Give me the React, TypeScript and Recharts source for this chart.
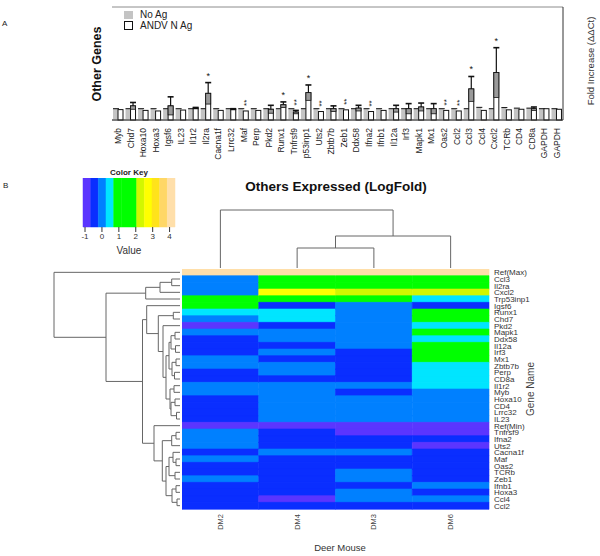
import React from 'react';
import { ComposedChart, BarChart, Bar, Cell, XAxis, YAxis, CartesianGrid, Legend, ScatterChart, Scatter } from 'recharts';

const FONT = '"Liberation Sans", Arial, Helvetica, sans-serif';

// ---- panel A: fold increase per gene ----
const barGenes = ['Myb', 'Chd7', 'Hoxa10', 'Hoxa3', 'Igsf6', 'IL23', 'Il1r2', 'Il2ra', 'Cacna1f', 'Lrrc32', 'Maf', 'Perp', 'Pkd2', 'Runx1', 'Tnfrsf9', 'p53inp1', 'Uts2', 'Zbtb7b', 'Zeb1', 'Ddx58', 'Ifna2', 'Ifnb1', 'Il12a', 'Irf3', 'Mapk1', 'Mx1', 'Oas2', 'Ccl2', 'Ccl3', 'Ccl4', 'Cxcl2', 'TCRb', 'CD4', 'CD8a', 'GAPDH', 'GAPDH'];
const noAg = [1, 1, 1, 1, 1, 1, 1, 1, 1, 1, 1, 1, 1, 1, 1, 1, 1, 1, 1, 1, 1, 1, 1, 1, 1, 1, 1, 1, 1, 1.12, 1, 1.1, 1.05, 1.05, 1, 1];
const andvMean = [0.92, 1.25, 0.85, 0.8, 1.25, 0.88, 1.05, 2.36, 0.85, 0.95, 0.8, 0.85, 0.95, 1.35, 0.7, 2.42, 0.75, 1.0, 0.9, 1.05, 0.75, 0.85, 1.0, 1.0, 1.15, 1.0, 0.85, 0.8, 2.75, 0.85, 4.2, 0.9, 0.95, 1.0, 1.0, 0.95];
const andvErr = [0, 0.3, 0, 0, 0.8, 0, 0.06, 0.95, 0, 0.05, 0, 0, 0.35, 0.25, 0.15, 0.68, 0, 0.25, 0, 0.25, 0, 0, 0.3, 0.45, 0.35, 0.45, 0, 0, 1.1, 0, 2.2, 0, 0, 0.15, 0, 0];
const signif = ['', '', '', '', '', '', '', '*', '', '', '**', '', '', '*', '**', '*', '**', '', '**', '', '**', '', '', '', '', '', '**', '**', '*', '', '*', '', '', '', '', ''];
const foldTicks = [0, 2, 4, 6, 8, 10];

// ---- panel B: heatmap ----
const keyBreaks = [-1.12, -0.667, -0.213, 0.24, 0.693, 1.147, 1.6, 2.053, 2.507, 2.96, 3.413, 3.867, 4.32];
const keyColors = ['#5b35ff', '#0a2eff', '#0080ff', '#00e5ff', '#00ff00', '#00ff00', '#00ff00', '#d2f700', '#ffff00', '#ffe31a', '#ffd766', '#ffdfaa'];
const keyTicks = [-1, 0, 1, 2, 3, 4];

const mice = ['DM2', 'DM4', 'DM3', 'DM6'];
const heatGenes = ['Ref(Max)', 'Ccl3', 'Il2ra', 'Cxcl2', 'Trp53inp1', 'Igsf6', 'Runx1', 'Chd7', 'Pkd2', 'Mapk1', 'Ddx58', 'Il12a', 'Irf3', 'Mx1', 'Zbtb7b', 'Perp', 'CD8a', 'Il1r2', 'Myb', 'Hoxa10', 'CD4', 'Lrrc32', 'IL23', 'Ref(Min)', 'Tnfrsf9', 'Ifna2', 'Uts2', 'Cacna1f', 'Maf', 'Oas2', 'TCRb', 'Zeb1', 'Ifnb1', 'Hoxa3', 'Ccl4', 'Ccl2'];
const dm2 = [4.1, 0, 0, 0, 1.3, 1.3, 0.45, 0, -0.9, 0, -0.45, -0.45, -0.45, 0, 0, -0.45, -0.45, 0, 0, -0.45, -0.45, -0.45, -0.45, -0.9, 0, 0, 0, -0.45, 0, -0.45, -0.45, 0, -0.45, -0.45, -0.45, -0.45];
const dm4 = [4.1, 1.3, 1.3, 2.7, 1.3, -0.45, 0.45, 0.45, -0.45, 0, 0, -0.45, 0, -0.45, 0, 0, -0.45, 0, 0, 0, 0, 0, 0, -0.9, -0.45, -0.45, -0.45, 0, -0.45, -0.45, -0.45, -0.45, -0.45, -0.45, -0.9, -0.45];
const dm3 = [4.1, 1.3, 1.3, 2.25, 1.3, 0, 0, 0, 0, 0, 0, 0, -0.45, -0.45, -0.45, -0.45, -0.45, 0, -0.45, 0, 0, 0, 0, -0.9, -0.9, -0.45, -0.45, 0, -0.45, -0.45, 0, 0, -0.45, 0, 0, -0.45];
const dm6 = [4.1, 1.3, 1.3, 2.25, 0.45, -0.45, 1.3, 1.3, 0.45, 1.3, 0.45, 1.3, 1.3, 1.3, 0.45, 0.45, 0.45, 0.45, 0, 0, 0, 0, 0, -0.9, -0.9, -0.45, -0.9, -0.45, -0.45, -0.45, -0.45, -0.45, 0, -0.45, 0, -0.45];

// dendrogram merges: numbers are leaves (row / column index), 'mK' is the K-th merge
type Ref = number | string;
const rowMerges: [Ref, Ref, number][] = [
  [1, 2, 8.3], ['m0', 3, 20], [4, 'm1', 34.3], [6, 7, 6.7],
  [9, 10, 5], [11, 12, 4.5], ['m4', 'm5', 9], [13, 14, 4], [15, 16, 5.5], ['m7', 'm8', 8], ['m6', 'm9', 11],
  [17, 18, 6], [19, 20, 5], [21, 22, 3.5], ['m12', 'm13', 9], ['m11', 'm14', 10], ['m10', 'm15', 14],
  [8, 'm16', 17], ['m3', 'm17', 21.7], [5, 'm18', 33.3],
  [24, 25, 4], ['m20', 26, 8.3], [28, 29, 4], [27, 'm22', 7], [30, 31, 5], ['m23', 'm24', 11],
  [32, 33, 4], [34, 35, 3], ['m26', 'm27', 8], ['m25', 'm28', 14], ['m21', 'm29', 17.7], [23, 'm30', 26],
  ['m19', 'm31', 37.5], ['m2', 'm32', 74], [0, 'm33', 126],
];
const colMerges: [Ref, Ref, number][] = [[1, 2, 20], ['m0', 3, 32], [0, 'm1', 58]];

function colorFor(v: number) {
  for (let i = 0; i < keyColors.length; i++) {
    if (v >= keyBreaks[i] && v < keyBreaks[i + 1]) return keyColors[i];
  }
  return keyColors[keyColors.length - 1];
}

// turns merges into U-shaped paths of {h, p} points
function dendroPaths(merges: [Ref, Ref, number][]) {
  const nodes: Record<string, { h: number; p: number }> = {};
  const get = (r: Ref) => (typeof r === 'number' ? { h: 0, p: r + 0.5 } : nodes[r]);
  return merges.map(([a, b, h], k) => {
    const A = get(a);
    const B = get(b);
    nodes['m' + k] = { h, p: (A.p + B.p) / 2 };
    return [{ h: A.h, p: A.p }, { h, p: A.p }, { h, p: B.p }, { h: B.h, p: B.p }];
  });
}

const NoShape = () => <g />;

const NoAgShape = (props: any) => {
  const { x, y, width, height } = props;
  return (
    <g>
      <rect x={x} y={y} width={width} height={height} fill="#c4c4c4" />
      <line x1={x} x2={x + width + 1} y1={y} y2={y} stroke="#111" strokeWidth={1} />
    </g>
  );
};

const AndvShape = (props: any) => {
  const { x, y, width, height, payload } = props;
  const ppu = height / payload.mean;
  const errPx = payload.err * ppu;
  const cx = x + width / 2;
  const top = y - errPx;
  let stars: React.ReactNode = null;
  if (payload.sig === '*') {
    stars = <text x={cx} y={top - 4} textAnchor="middle" fontSize={9} fill="#111">*</text>;
  } else if (payload.sig === '**') {
    // drawn upright like the rotated gene labels
    const sx = cx + 3;
    const sy = top - 5;
    stars = <text x={sx} y={sy} transform={`rotate(-90, ${sx}, ${sy})`} fontSize={8} fill="#111">**</text>;
  }
  return (
    <g>
      <rect x={x} y={y} width={width} height={height} fill="#fff" stroke="#111" strokeWidth={1} />
      {payload.err > 0 && (
        <g>
          <rect x={x} y={y} width={width} height={errPx} fill="#9a9a9a" stroke="#111" strokeWidth={0.8} />
          <line x1={cx} x2={cx} y1={y} y2={top} stroke="#111" strokeWidth={1.2} />
          <line x1={cx - 3} x2={cx + 3} y1={top} y2={top} stroke="#111" strokeWidth={1.6} />
        </g>
      )}
      {stars}
    </g>
  );
};

const GeneTick = (props: any) => {
  const { x, y, payload } = props;
  return (
    <text x={x + 3} y={y + 8} transform={`rotate(-90, ${x + 3}, ${y + 8})`} textAnchor="end" fontSize={8.5} fill="#222">
      {payload.value}
    </text>
  );
};

const FoldTick = (props: any) => {
  const { x, y, payload } = props;
  return (
    <text x={x + 7.5} y={y} transform={`rotate(-90, ${x + 7.5}, ${y})`} textAnchor="middle" fontSize={8.5} fill="#333">
      {payload.value}
    </text>
  );
};

const MouseTick = (props: any) => {
  const { x, y, payload } = props;
  return (
    <text x={x + 2.6} y={y + 5} transform={`rotate(-90, ${x + 2.6}, ${y + 5})`} textAnchor="end" fontSize={7.5} fill="#444">
      {mice[Math.round(payload.value - 0.5)]}
    </text>
  );
};

const LegendBox = () => (
  <div style={{ fontSize: 10, lineHeight: '11px', color: '#222', fontFamily: FONT }}>
    <div style={{ display: 'flex', alignItems: 'center', height: 11 }}>
      <span style={{ display: 'inline-block', width: 9, height: 8, background: '#c4c4c4', marginRight: 7 }} />
      No Ag
    </div>
    <div style={{ display: 'flex', alignItems: 'center', height: 11 }}>
      <span style={{ display: 'inline-block', width: 7, height: 7, border: '1px solid #111', background: '#fff', marginRight: 7 }} />
      ANDV N Ag
    </div>
  </div>
);

export default function App() {
  const barData = barGenes.map((g, i) => ({ gene: g, noAg: noAg[i], mean: andvMean[i], err: andvErr[i], sig: signif[i] }));
  const heatRows = heatGenes.map((g, i) => ({ gene: g, v: [dm2[i], dm4[i], dm3[i], dm6[i]] }));
  const rowPaths = dendroPaths(rowMerges);
  const colPaths = dendroPaths(colMerges);

  // color key: one stacked row of bins; the axis is measured from the first break
  const keyStart = keyBreaks[0];
  const keySpan = keyBreaks[keyBreaks.length - 1] - keyStart;
  const keyRow: Record<string, number | string>[] = [{ name: 'key' }];
  keyColors.forEach((c, i) => { keyRow[0]['b' + i] = keyBreaks[i + 1] - keyBreaks[i]; });

  return (
    <div style={{ position: 'absolute', left: 0, top: 0, width: 600, height: 556, background: '#fff', fontFamily: FONT, overflow: 'hidden' }}>
      {/* A: bar chart */}
      <div style={{ position: 'absolute', left: 0, top: 0 }}>
        <ComposedChart width={600} height={170} data={barData} margin={{ top: 7, right: 0, bottom: 0, left: 112 }} barCategoryGap={1} barGap={0}>
          <CartesianGrid vertical={false} stroke="#8c8c8c" />
          <XAxis dataKey="gene" type="category" interval={0} height={50} tickSize={0} tickMargin={0} tickLine={false} axisLine={{ stroke: '#333' }} tick={<GeneTick />} />
          <XAxis xAxisId="top" orientation="top" type="number" domain={[0, 1]} height={0} tick={false} tickLine={false} axisLine={{ stroke: '#333' }} />
          <YAxis domain={[0, 10]} ticks={foldTicks} width={0} tick={false} tickLine={false} axisLine={{ stroke: '#333' }} />
          <YAxis yAxisId="r" orientation="right" domain={[0, 10]} ticks={foldTicks} width={37} tickSize={0} tickMargin={0} tickLine={false} axisLine={{ stroke: '#333' }} tick={<FoldTick />} />
          <Legend layout="vertical" align="center" verticalAlign="middle" content={<LegendBox />} wrapperStyle={{ left: 124, top: 9, width: 100, height: 24 }} />
          <Bar dataKey="noAg" shape={<NoAgShape />} isAnimationActive={false} />
          <Bar dataKey="mean" shape={<AndvShape />} isAnimationActive={false} />
        </ComposedChart>
      </div>

      {/* B: color key */}
      <div style={{ position: 'absolute', left: 77, top: 178 }}>
        <BarChart width={104} height={77} data={keyRow} layout="vertical" margin={{ top: 0, right: 6, bottom: 0, left: 6 }} barCategoryGap={0}>
          <XAxis type="number" domain={[0, keySpan]} ticks={keyTicks.map((t) => t - keyStart)} interval={0} tickFormatter={(t: number) => String(Math.round(t + keyStart))} height={28} tickSize={5} tickMargin={1} axisLine={false} tickLine={{ stroke: '#333' }} tick={{ fontSize: 8, fill: '#333' }} label={{ value: 'Value', position: 'insideBottom', offset: 1, fontSize: 10, fill: '#333' }} />
          <YAxis type="category" dataKey="name" hide width={0} />
          {keyColors.map((c, i) => (
            <Bar key={i} dataKey={'b' + i} stackId="k" fill={c} stroke={c} strokeWidth={0.5} isAnimationActive={false} />
          ))}
        </BarChart>
      </div>

      {/* B: column dendrogram */}
      <div style={{ position: 'absolute', left: 180, top: 208 }}>
        <ScatterChart width={311} height={62} margin={{ top: 2, right: 2, bottom: 2, left: 2 }}>
          <XAxis dataKey="p" type="number" domain={[0, 4]} hide />
          <YAxis dataKey="h" type="number" domain={[0, 58]} hide />
          {colPaths.map((pts, k) => (
            <Scatter key={k} data={pts} line={{ stroke: '#666', strokeWidth: 1 }} lineType="joint" shape={<NoShape />} isAnimationActive={false} />
          ))}
        </ScatterChart>
      </div>

      {/* B: row dendrogram */}
      <div style={{ position: 'absolute', left: 52, top: 267 }}>
        <ScatterChart width={130} height={244} margin={{ top: 2, right: 2, bottom: 2, left: 2 }}>
          <XAxis dataKey="h" type="number" domain={[0, 126]} reversed hide />
          <YAxis dataKey="p" type="number" domain={[0, 36]} reversed hide />
          {rowPaths.map((pts, k) => (
            <Scatter key={k} data={pts} line={{ stroke: '#666', strokeWidth: 1 }} lineType="joint" shape={<NoShape />} isAnimationActive={false} />
          ))}
        </ScatterChart>
      </div>

      {/* B: heatmap */}
      <div style={{ position: 'absolute', left: 182, top: 269 }}>
        <BarChart width={367} height={270} data={heatRows} layout="vertical" margin={{ top: 0, right: 0, bottom: 0, left: 0 }} barCategoryGap={0}>
          <XAxis type="number" domain={[0, 4]} ticks={[0.5, 1.5, 2.5, 3.5]} height={30} tickSize={0} tickMargin={0} axisLine={false} tickLine={false} tick={<MouseTick />} />
          <YAxis type="category" dataKey="gene" orientation="right" interval={0} width={60} tickSize={0} tickMargin={5} axisLine={false} tickLine={false} tick={{ fontSize: 8, fill: '#333', textAnchor: 'start' }} />
          {mice.map((m, j) => (
            <Bar key={m} dataKey={() => 1} stackId="h" isAnimationActive={false}>
              {heatRows.map((r, i) => (
                <Cell key={i} fill={colorFor(r.v[j])} stroke={colorFor(r.v[j])} strokeWidth={0.6} />
              ))}
            </Bar>
          ))}
        </BarChart>
      </div>

      {/* free text */}
      <svg width={600} height={556} style={{ position: 'absolute', left: 0, top: 0, pointerEvents: 'none' }} fontFamily={FONT}>
        <text x={2} y={26} fontSize={8} fill="#222">A</text>
        <text x={3} y={188} fontSize={8} fill="#222">B</text>
        <text x={101} y={64} transform="rotate(-90, 101, 64)" textAnchor="middle" fontSize={12.5} fontWeight="bold" fill="#111">Other Genes</text>
        <text x={594} y={61} transform="rotate(-90, 594, 61)" textAnchor="middle" fontSize={9.5} fill="#333">Fold Increase (ΔΔCt)</text>
        <text x={129} y={175} textAnchor="middle" fontSize={8} fontWeight="bold" fill="#222">Color Key</text>
        <text x={336} y={191} textAnchor="middle" fontSize={13.5} fontWeight="bold" fill="#111">Others Expressed (LogFold)</text>
        <text x={534} y={389} transform="rotate(-90, 534, 389)" textAnchor="middle" fontSize={10} fill="#444">Gene Name</text>
        <text x={340} y={551} textAnchor="middle" fontSize={9.5} fill="#333">Deer Mouse</text>
      </svg>
    </div>
  );
}
